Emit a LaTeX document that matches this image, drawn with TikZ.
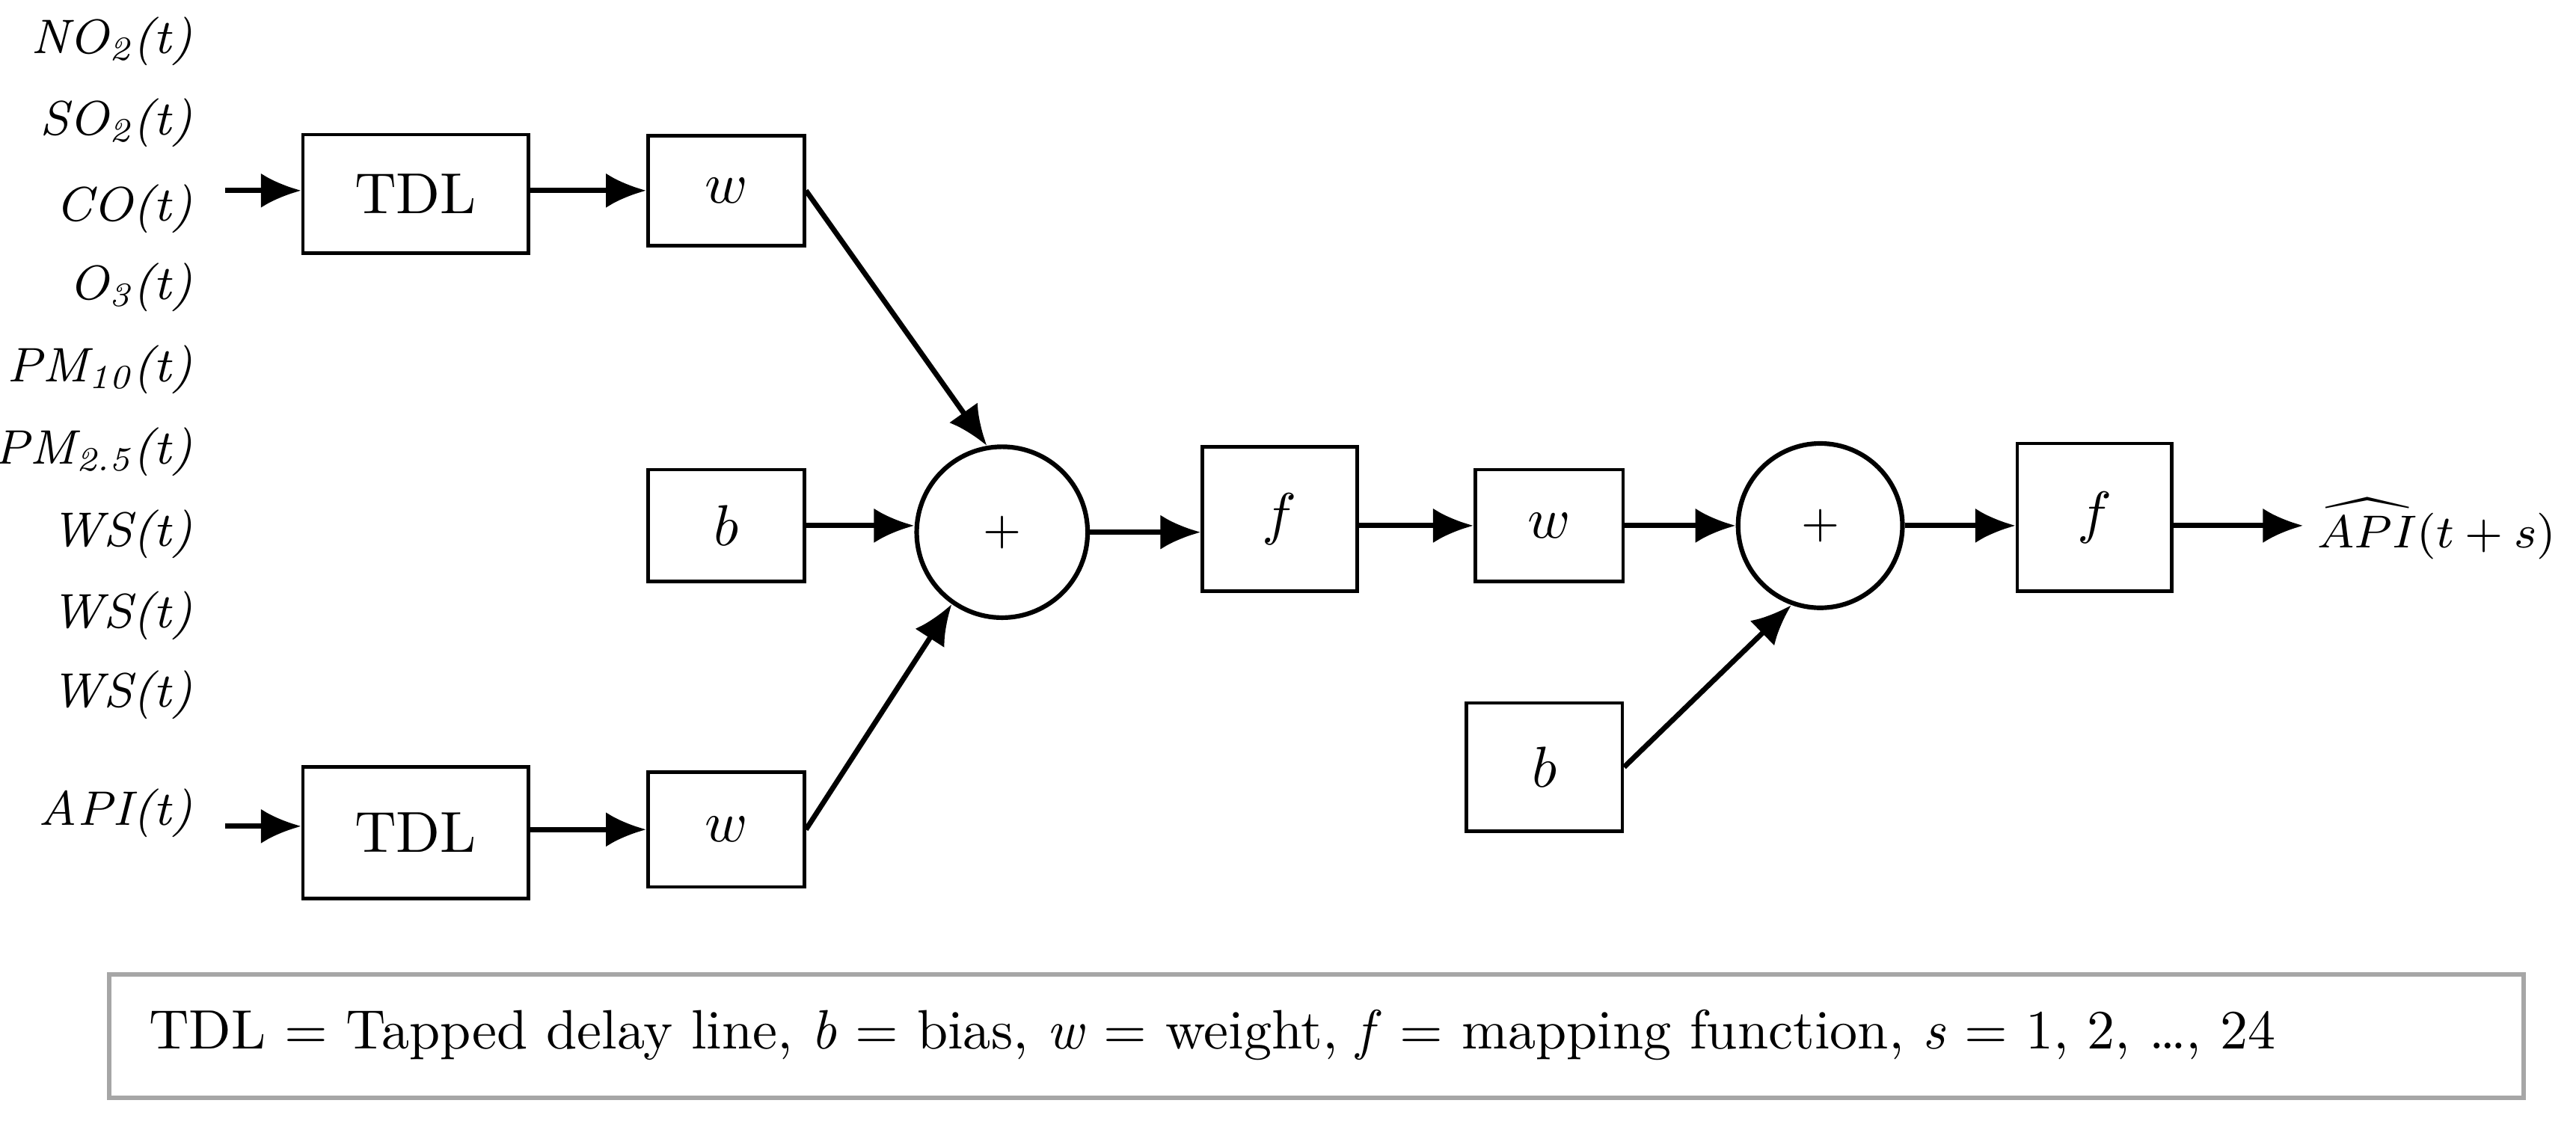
\documentclass[tikz,border=0pt]{standalone}
\usetikzlibrary{arrows.meta}
\begin{document}
\begin{tikzpicture}[x=0.01cm,y=-0.01cm,
  box/.style={draw,line width=0.6pt,inner sep=0pt,font=\fontsize{10}{12}\selectfont},
  sum/.style={draw,circle,line width=0.8pt,inner sep=0pt,minimum size=1.04cm,font=\fontsize{8}{10}\selectfont},
  lab/.style={anchor=east,inner sep=0pt,font=\fontsize{8.4}{10}\selectfont\itshape},
  ar/.style={-{Latex[length=7pt,width=6pt]},line width=0.9pt},
  ln/.style={line width=0.9pt}]
\useasboundingbox (0,0) rectangle (1568,684);
\node[lab] (l1) at (118,25) {NO\textsubscript{2}(t)};
\node[lab] (l2) at (118,75) {SO\textsubscript{2}(t)};
\node[lab] (l3) at (118,127) {CO(t)};
\node[lab] (l4) at (118,175) {O\textsubscript{3}(t)};
\node[lab] (l5) at (118,225) {PM\textsubscript{10}(t)};
\node[lab] (l6) at (118,275) {PM\textsubscript{2.5}(t)};
\node[lab] (l7) at (118,325) {WS(t)};
\node[lab] (l8) at (118,375) {WS(t)};
\node[lab] (l9) at (118,423) {WS(t)};
\node[lab] (l10) at (118,495) {API(t)};
\coordinate (s1) at (137,116);
\coordinate (s2) at (137,503);
\node[box,minimum width=1.37cm,minimum height=0.72cm] (tdl1) at (253,118) {TDL};
\node[box,minimum width=1.37cm,minimum height=0.80cm] (tdl2) at (253,507) {TDL};
\node[box,minimum width=0.95cm,minimum height=0.67cm] (w1) at (442,116) {$w$};
\node[box,minimum width=0.95cm,minimum height=0.68cm] (b1) at (442,320) {$b$};
\node[box,minimum width=0.95cm,minimum height=0.70cm] (w2) at (442,505) {$w$};
\node[sum] (c1) at (610,324) {+};
\node[box,minimum width=0.94cm,minimum height=0.88cm] (f1) at (779,316) {$f$};
\node[box,minimum width=0.90cm,minimum height=0.68cm] (w3) at (943,320) {$w$};
\node[sum,minimum size=1.0cm] (c2) at (1108,320) {+};
\node[box,minimum width=0.95cm,minimum height=0.78cm] (b2) at (940,467) {$b$};
\node[box,minimum width=0.94cm,minimum height=0.90cm] (f2) at (1275,315) {$f$};
\coordinate (o) at (1402,320);
\node[anchor=west,inner sep=0pt,font=\fontsize{8.5}{10}\selectfont] (out) at (1410,322) {$\widehat{API}(t+s)$};
\draw[ar] (s1) -- (tdl1.west|-s1);
\draw[ar] (s2) -- (tdl2.west|-s2);
\draw[ar] (tdl1.east|-w1) -- (w1.west);
\draw[ar] (tdl2.east|-w2) -- (w2.west);
\draw[ar] (w1.east) -- (c1.100);
\draw[ar] (w2.east) -- (c1.235);
\draw[ar] (b1.east) -- (b1.east-|c1.west);
\draw[ar] (c1.east) -- (f1.west|-c1.east);
\draw[ar] (f1.east|-w3) -- (w3.west);
\draw[ar] (w3.east) -- (c2.west);
\draw[ar] (c2.east) -- (f2.west|-c2.east);
\draw[ar] (b2.east) -- (c2.250);
\draw[ar] (f2.east|-o) -- (o);
\node[draw=gray!70,line width=0.8pt,minimum width=14.69cm,minimum height=0.75cm,anchor=north west,inner sep=0pt] (leg) at (65,592) {};
\node[anchor=west,inner sep=0pt,font=\fontsize{9.6}{12}\selectfont] (legt) at (90,630) {TDL = Tapped delay line, \textit{b} = bias, \textit{w} = weight, \textit{f} = mapping function, \textit{s} = 1, 2, \ldots, 24};
\end{tikzpicture}
\end{document}
